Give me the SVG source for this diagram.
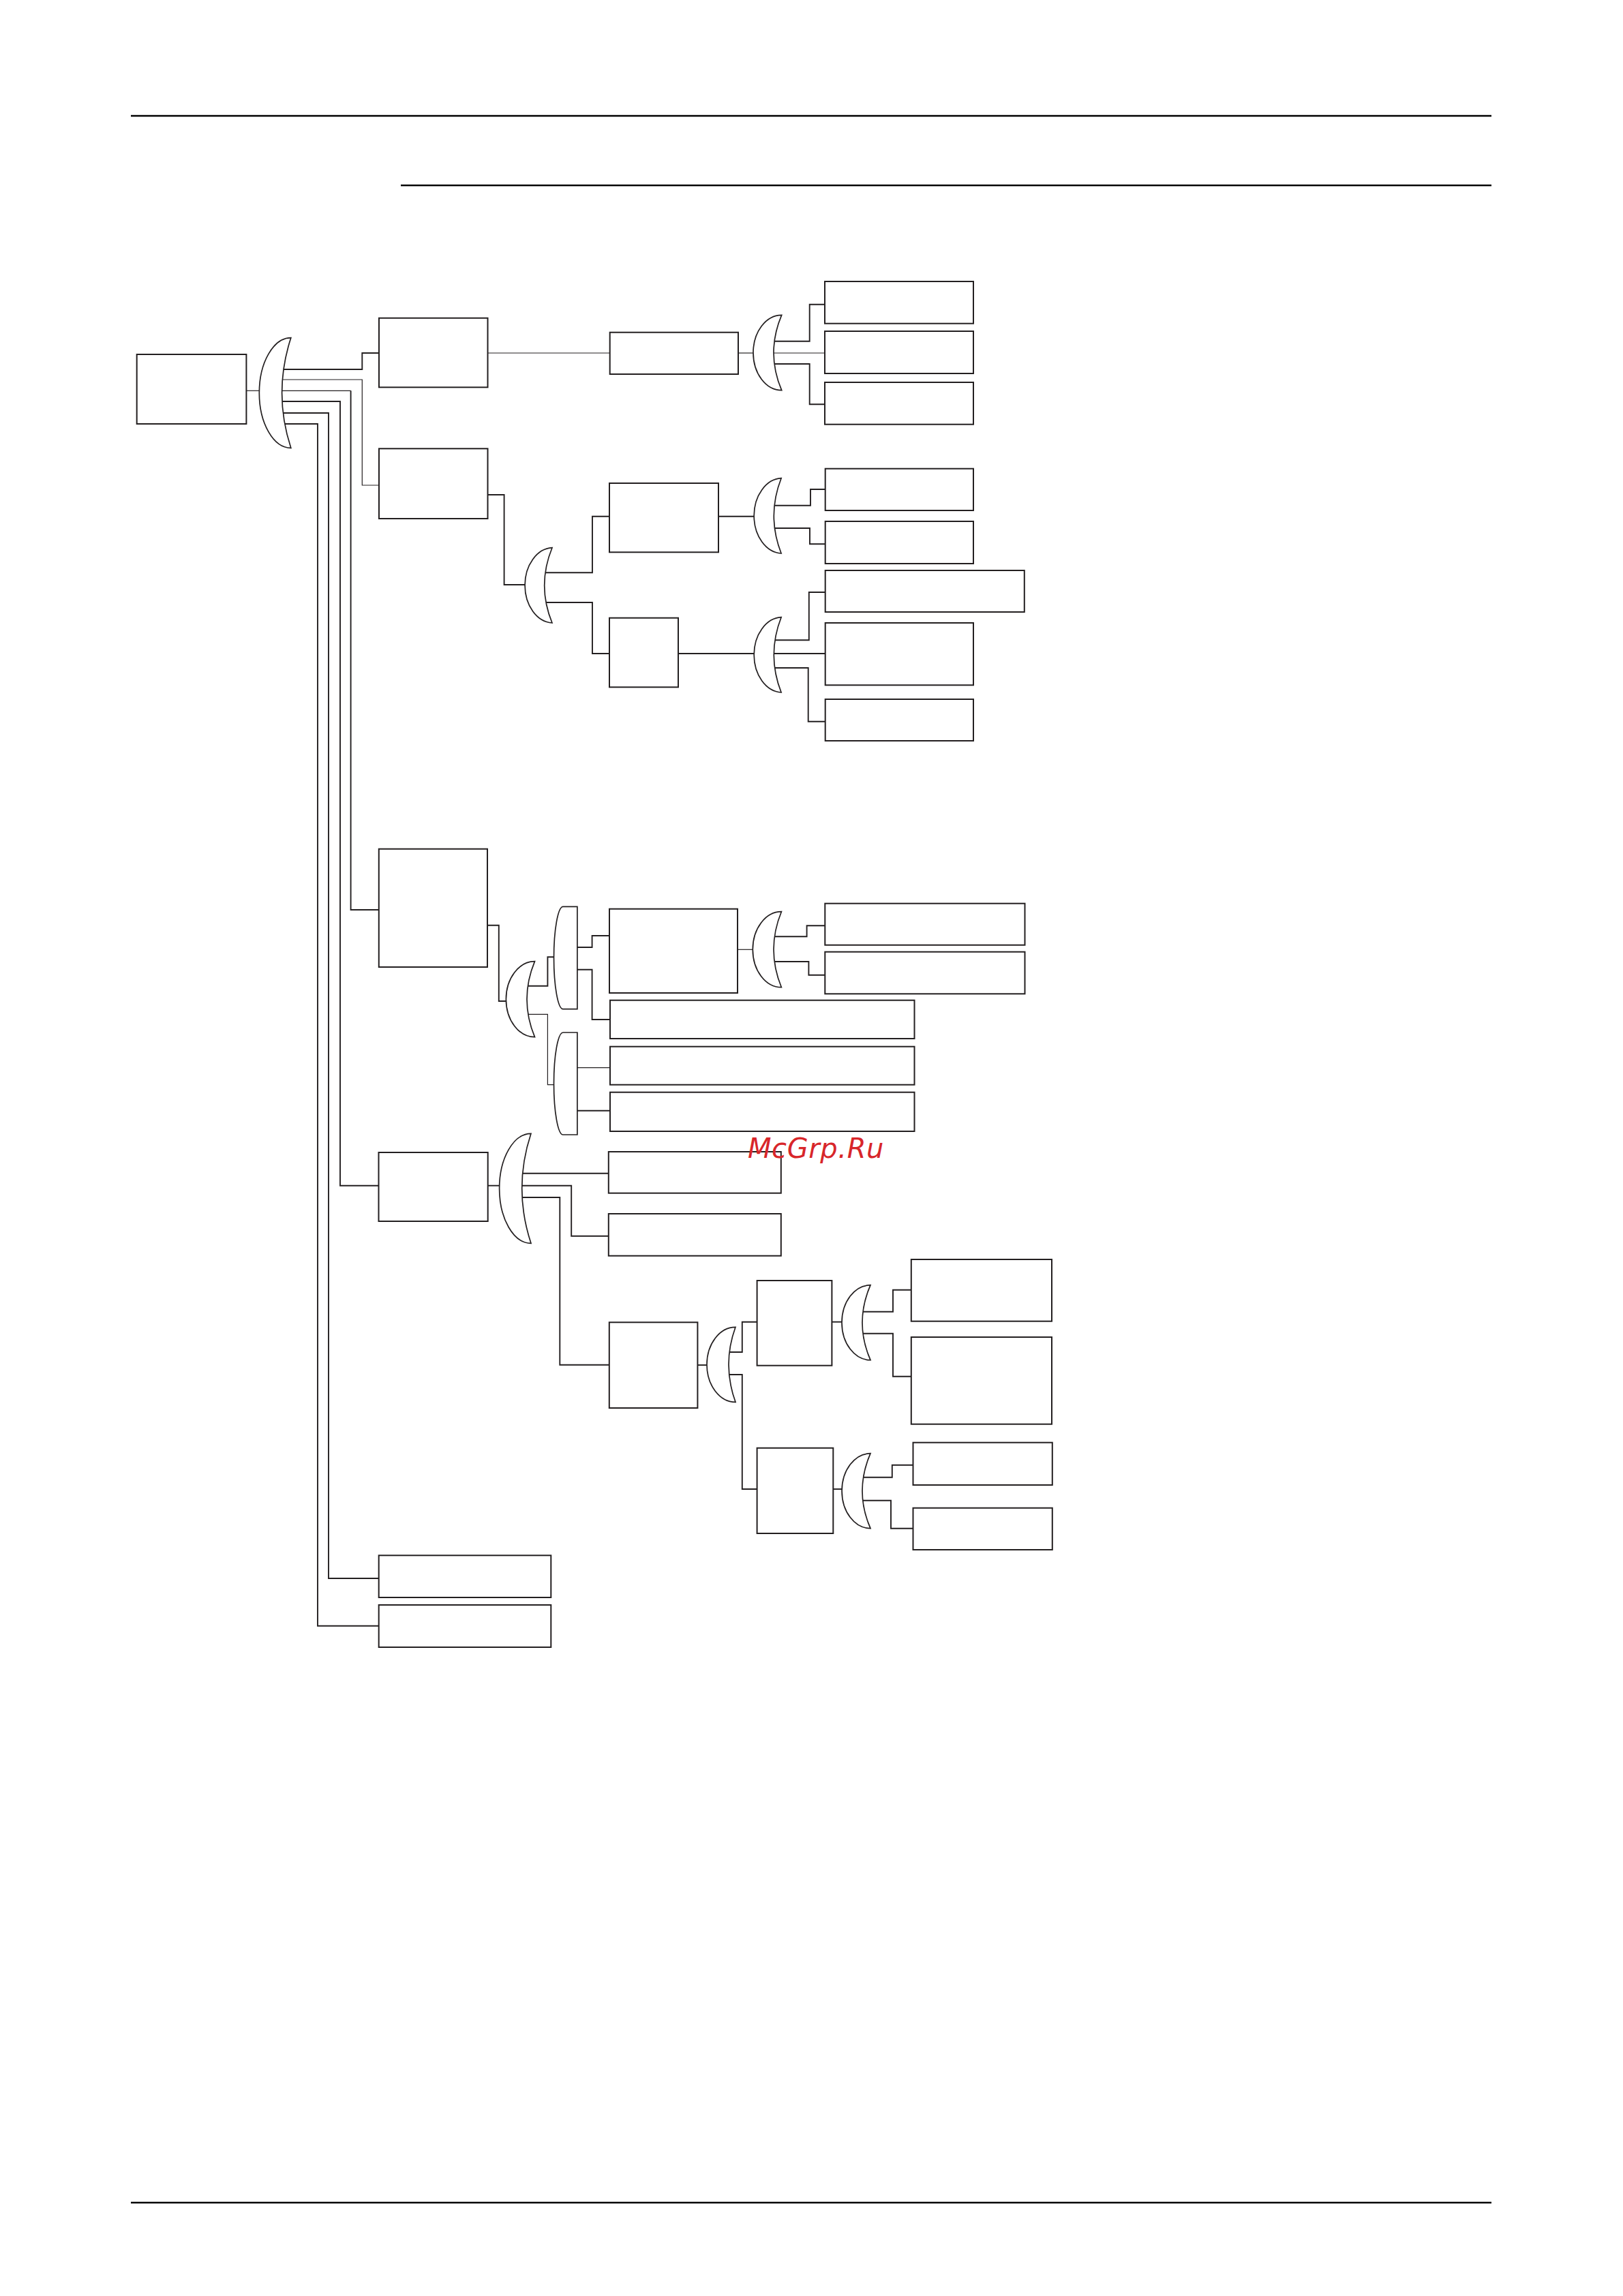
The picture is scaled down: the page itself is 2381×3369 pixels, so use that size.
<svg xmlns="http://www.w3.org/2000/svg" width="2381" height="3369" viewBox="0 0 2381 3369">
<style>
.bg{fill:#ffffff}
.rule{stroke:#000000;stroke-width:2.4;fill:none}
.node rect{fill:#ffffff;stroke:#231f20;stroke-width:2}
.gate{fill:#ffffff;stroke:#231f20;stroke-width:1.7}
#connectors path{fill:none;stroke:#231f20;stroke-width:1.9}
#connectors path.thin{stroke-width:1.2}
.wm{font-family:"DejaVu Sans",sans-serif;font-style:oblique;font-size:40px;letter-spacing:0.6px;fill:#d8262a}
</style>
<rect class="bg" x="0" y="0" width="2381" height="3369"/>
<g id="page-rules">
<line class="rule" x1="192" y1="170" x2="2188" y2="170"/>
<line class="rule" x1="588" y1="272" x2="2188" y2="272"/>
<line class="rule" x1="192" y1="3232" x2="2188" y2="3232"/>
</g>
<g id="connectors">
<path class="thin" d="M361.4,573.3 H382"/>
<path d="M413,542 H531.3 V518 H556"/>
<path class="thin" d="M413,557 H531.3 V712 H556"/>
<path class="thin" d="M413,573.3 H514.6"/>
<path d="M514.6,573.3 V1335 H555.8"/>
<path d="M413,589 H499 V1739.7 H555.5"/>
<path d="M413,606 H482 V2316 H555.7"/>
<path d="M413,622 H466 V2385.7 H555.7"/>
<path class="thin" d="M715.5,518 H894.7"/>
<path class="thin" d="M1083,518 H1107"/>
<path d="M1135,500.7 H1187.7 V446.7 H1210"/>
<path class="thin" d="M1135,518 H1210"/>
<path d="M1135,534 H1187.7 V593.3 H1210"/>
<path d="M715.5,726 H739.6 V858 H770"/>
<path d="M798,840.3 H869 V757.7 H894"/>
<path d="M798,884 H869 V959 H894"/>
<path d="M1054,757.7 H1106"/>
<path d="M1135,741.7 H1189 V718 H1210.7"/>
<path d="M1135,775 H1188 V798.3 H1210.7"/>
<path d="M995,959 H1106"/>
<path d="M1135,939.3 H1186.8 V869 H1210.7"/>
<path d="M1135,959 H1210"/>
<path d="M1135,980 H1185.7 V1058.7 H1210.7"/>
<path d="M715,1357.7 H731.8 V1469 H744"/>
<path d="M773,1446.7 H803.4 V1404.3 H814"/>
<path class="thin" d="M773,1488.3 H803.4 V1591.7 H814"/>
<path d="M846.9,1390 H868.6 V1373 H894"/>
<path d="M846.9,1422.7 H868.6 V1496 H895"/>
<path class="thin" d="M1082,1393.3 H1106"/>
<path d="M1135,1374.3 H1183.6 V1358.3 H1210.3"/>
<path d="M1135,1411 H1186.4 V1430.7 H1210.3"/>
<path class="thin" d="M846.9,1566.7 H895"/>
<path d="M846.9,1629.7 H895"/>
<path d="M715.7,1739.7 H734"/>
<path d="M765,1721.7 H892.8"/>
<path d="M765,1739.7 H838.2 V1813.7 H892.8"/>
<path d="M765,1757 H821.3 V2002.7 H893.8"/>
<path d="M1023.4,2003 H1039"/>
<path d="M1069,1984 H1088.8 V1939.7 H1110.6"/>
<path d="M1069,2017 H1088.8 V2185 H1110.6"/>
<path d="M1220.4,1939.7 H1237"/>
<path d="M1265,1924.7 H1310 V1892.7 H1336.8"/>
<path d="M1265,1956.7 H1310 V2019.7 H1336.8"/>
<path d="M1222.3,2185 H1237"/>
<path d="M1265,2167.7 H1308.8 V2149.7 H1339.5"/>
<path d="M1265,2201.7 H1307 V2242.7 H1339.5"/>
</g>
<g id="gates">
<path id="g-root" class="gate" d="M426.8,495.7 A46.5,80.8 0 0 0 426.8,657.3 Q400.4,576.5 426.8,495.7 Z"/>
<path id="g-a2" class="gate" d="M1146.7,462.3 A41.7,55.2 0 0 0 1146.7,572.7 Q1123.3,517.5 1146.7,462.3 Z"/>
<path id="g-b" class="gate" d="M810,803.7 A41.7,55.2 0 0 0 810,914 Q787.4,858.9 810,803.7 Z"/>
<path id="g-b1" class="gate" d="M1146.1,701.7 A41.7,55.2 0 0 0 1146.1,812 Q1124.5,756.9 1146.1,701.7 Z"/>
<path id="g-b2" class="gate" d="M1146.1,905.7 A41.7,55.2 0 0 0 1146.1,1016 Q1124.5,960.9 1146.1,905.7 Z"/>
<path id="g-c" class="gate" d="M784.5,1410.7 A42.1,55.5 0 0 0 784.5,1521.7 Q761.5,1466.2 784.5,1410.7 Z"/>
<path id="g-c1" class="gate" d="M846.9,1330.3 H826 A13.5,75.2 0 0 0 826,1480.7 H846.9 Z"/>
<path id="g-c2" class="gate" d="M846.9,1515 H826 A13.5,75 0 0 0 826,1665 H846.9 Z"/>
<path id="g-c1b" class="gate" d="M1146.4,1337.7 A42.1,55.5 0 0 0 1146.4,1448.7 Q1123.6,1393.2 1146.4,1337.7 Z"/>
<path id="g-d" class="gate" d="M779,1663.3 A46.4,80.5 0 0 0 779,1824.3 Q752.4,1743.8 779,1663.3 Z"/>
<path id="g-d3" class="gate" d="M1079,1947.3 A42,55 0 0 0 1079,2057.3 Q1059,2002.3 1079,1947.3 Z"/>
<path id="g-d31" class="gate" d="M1277,1885.7 A42,55 0 0 0 1277,1995.7 Q1253,1940.7 1277,1885.7 Z"/>
<path id="g-d32" class="gate" d="M1277,2132.7 A42,55 0 0 0 1277,2242.7 Q1253,2187.7 1277,2132.7 Z"/>
</g>
<g id="n-root" class="node"><rect x="200.7" y="520" width="160.7" height="102"/></g>
<g id="n-a" class="node"><rect x="556" y="466.7" width="159.5" height="101.6"/></g>
<g id="n-a2" class="node"><rect x="894.7" y="487.7" width="188.3" height="61.3"/></g>
<g id="n-a2a" class="node"><rect x="1210" y="413" width="218" height="61.7"/></g>
<g id="n-a2b" class="node"><rect x="1210" y="486" width="218" height="62"/></g>
<g id="n-a2c" class="node"><rect x="1210" y="561" width="218" height="61.7"/></g>
<g id="n-b" class="node"><rect x="556" y="658.3" width="159.5" height="102.7"/></g>
<g id="n-b1" class="node"><rect x="894" y="709" width="160" height="101.3"/></g>
<g id="n-b1a" class="node"><rect x="1210.7" y="687.7" width="217.3" height="61.3"/></g>
<g id="n-b1b" class="node"><rect x="1210.7" y="765" width="217.3" height="62"/></g>
<g id="n-b2" class="node"><rect x="894" y="906.7" width="101" height="101.6"/></g>
<g id="n-b2a" class="node"><rect x="1210.7" y="837" width="292.1" height="61"/></g>
<g id="n-b2b" class="node"><rect x="1210.7" y="914" width="217.3" height="91.3"/></g>
<g id="n-b2c" class="node"><rect x="1210.7" y="1026" width="217.3" height="61"/></g>
<g id="n-c" class="node"><rect x="555.8" y="1245.7" width="159.2" height="173.3"/></g>
<g id="n-c1" class="node"><rect x="894" y="1333.7" width="188" height="123.3"/></g>
<g id="n-c1a" class="node"><rect x="1210.3" y="1325.7" width="293.2" height="61"/></g>
<g id="n-c1b" class="node"><rect x="1210.3" y="1396.7" width="293.2" height="61.6"/></g>
<g id="n-c2" class="node"><rect x="895" y="1467.7" width="446.5" height="56.3"/></g>
<g id="n-c3" class="node"><rect x="895" y="1535.7" width="446.5" height="56"/></g>
<g id="n-c4" class="node"><rect x="895" y="1602.7" width="446.5" height="57.3"/></g>
<g id="n-d" class="node"><rect x="555.5" y="1691" width="160.2" height="101"/></g>
<g id="n-d1" class="node"><rect x="892.8" y="1690" width="253" height="60.7"/></g>
<g id="n-d2" class="node"><rect x="892.8" y="1781" width="253" height="61.7"/></g>
<g id="n-d3" class="node"><rect x="893.8" y="1940.3" width="129.6" height="125.7"/></g>
<g id="n-d31" class="node"><rect x="1110.6" y="1879" width="109.8" height="124.7"/></g>
<g id="n-d32" class="node"><rect x="1110.6" y="2124.7" width="111.7" height="125.3"/></g>
<g id="n-d311" class="node"><rect x="1336.8" y="1848" width="206.2" height="90.7"/></g>
<g id="n-d312" class="node"><rect x="1336.8" y="1962" width="206.2" height="127.7"/></g>
<g id="n-d321" class="node"><rect x="1339.5" y="2116.7" width="204.3" height="62.3"/></g>
<g id="n-d322" class="node"><rect x="1339.5" y="2212.7" width="204.3" height="61.3"/></g>
<g id="n-e" class="node"><rect x="555.7" y="2282.3" width="252.6" height="61.7"/></g>
<g id="n-f" class="node"><rect x="555.7" y="2355" width="252.6" height="62"/></g>
<text class="wm" x="1097" y="1699">McGrp.Ru</text>
</svg>
